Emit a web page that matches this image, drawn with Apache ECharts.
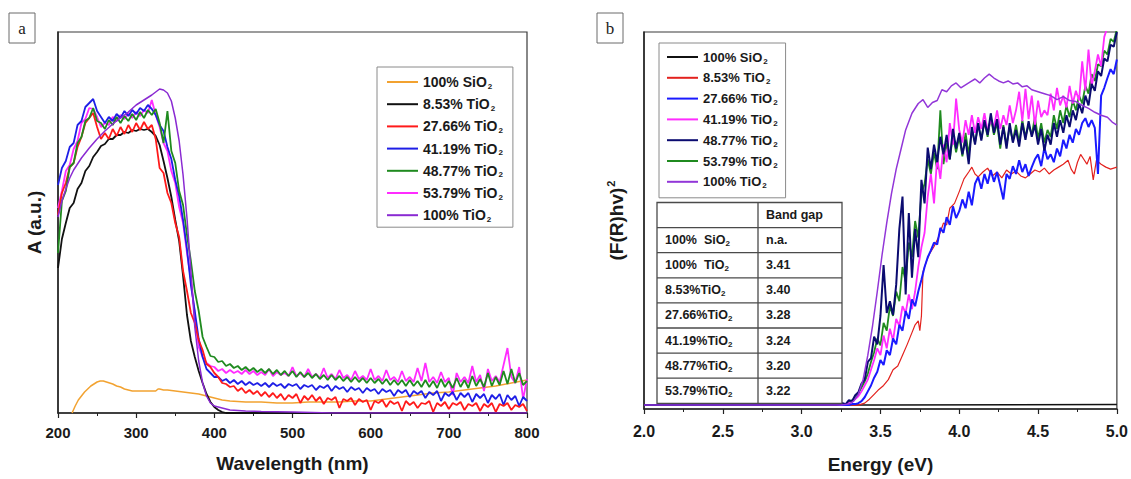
<!DOCTYPE html>
<html>
<head>
<meta charset="utf-8">
<title>UV-Vis absorbance and band gap of SiO2-TiO2 samples</title>
<script src="https://cdn.jsdelivr.net/npm/echarts@6/dist/echarts.min.js"></script>
<style>
  html, body { margin: 0; padding: 0; background: #ffffff; }
  #wrap { position: relative; width: 1131px; height: 479px; overflow: hidden; }
  #chartA { position: absolute; left: 0; top: 0; width: 565px; height: 479px; }
  #chartB { position: absolute; left: 565px; top: 0; width: 566px; height: 479px; }
</style>
</head>
<body>
<div id="wrap">
  <div id="chartA"></div>
  <div id="chartB"></div>
</div>
<script>
// ---------- sample names ----------
const namesA = ['100% SiO2', '8.53% TiO2', '27.66% TiO2', '41.19% TiO2', '48.77% TiO2', '53.79% TiO2', '100% TiO2'];
const namesB = ['100% SiO2', '8.53% TiO2', '27.66% TiO2', '41.19% TiO2', '48.77% TiO2', '53.79% TiO2', '100% TiO2'];

// ---------- panel a: absorbance vs wavelength ----------
const wlTicks = [200, 300, 400, 500, 600, 700, 800];

// spectra recorded every 5 nm from 200 to 800 nm
const wlStart = 200, wlStep = 5, wlCount = 121;

const abs2766 = [
  1.98, 2.20, 2.30, 2.46, 2.50, 2.66, 2.76, 2.90, 2.95, 3.00,
  2.86, 2.74, 2.80, 2.74, 2.84, 2.77, 2.86, 2.79, 2.88, 2.81,
  2.90, 2.83, 2.91, 2.84, 2.88, 2.74, 2.45, 2.40, 2.20, 2.10,
  1.90, 1.76, 1.42, 1.22, 1.00, 0.90, 0.73, 0.63, 0.49, 0.46,
  0.40, 0.36, 0.30, 0.29, 0.26, 0.27, 0.22, 0.25, 0.20, 0.23,
  0.19, 0.22, 0.17, 0.21, 0.16, 0.20, 0.15, 0.19, 0.13, 0.18,
  0.15, 0.19, 0.10, 0.17, 0.13, 0.18, 0.12, 0.16, 0.09, 0.15,
  0.13, 0.16, 0.05, 0.14, 0.12, 0.15, 0.08, 0.14, 0.11, 0.13,
  0.03, 0.12, 0.10, 0.13, 0.06, 0.12, 0.09, 0.11, 0.02, 0.12,
  0.08, 0.11, 0.05, 0.10, 0.09, 0.12, 0.01, 0.10, 0.07, 0.11,
  0.04, 0.10, 0.08, 0.11, 0.03, 0.09, 0.07, 0.10, 0.02, 0.09,
  0.06, 0.10, 0.01, 0.09, 0.07, 0.10, 0.03, 0.08, 0.06, 0.09,
  0.02
];
const abs4119 = [
  2.28, 2.45, 2.52, 2.66, 2.70, 2.88, 2.92, 3.06, 3.10, 3.14,
  3.02, 2.96, 2.90, 2.96, 2.92, 2.99, 2.95, 3.02, 2.97, 3.03,
  2.99, 3.05, 3.02, 3.08, 3.04, 2.98, 2.88, 2.82, 2.66, 2.54,
  2.33, 2.17, 1.93, 1.64, 1.28, 1.02, 0.74, 0.56, 0.44, 0.40,
  0.36, 0.36, 0.32, 0.34, 0.30, 0.33, 0.29, 0.32, 0.28, 0.31,
  0.28, 0.30, 0.27, 0.30, 0.26, 0.30, 0.27, 0.29, 0.25, 0.29,
  0.27, 0.29, 0.24, 0.28, 0.26, 0.28, 0.23, 0.27, 0.25, 0.28,
  0.22, 0.27, 0.24, 0.26, 0.21, 0.26, 0.23, 0.25, 0.20, 0.25,
  0.22, 0.24, 0.19, 0.24, 0.21, 0.23, 0.17, 0.23, 0.20, 0.23,
  0.16, 0.22, 0.19, 0.22, 0.15, 0.21, 0.18, 0.22, 0.12, 0.20,
  0.17, 0.21, 0.13, 0.20, 0.16, 0.20, 0.11, 0.19, 0.15, 0.19,
  0.10, 0.18, 0.14, 0.19, 0.08, 0.18, 0.13, 0.17, 0.07, 0.16,
  0.12
];
const abs4877 = [
  1.60, 2.12, 2.22, 2.46, 2.50, 2.70, 2.76, 2.92, 2.95, 3.05,
  2.92, 2.90, 2.84, 2.93, 2.88, 2.96, 2.90, 2.97, 2.92, 2.99,
  2.93, 3.01, 2.95, 3.03, 2.98, 3.04, 2.90, 2.70, 3.02, 2.62,
  2.50, 2.22, 2.08, 1.78, 1.52, 1.22, 1.02, 0.76, 0.66, 0.57,
  0.56, 0.51, 0.52, 0.47, 0.49, 0.45, 0.47, 0.43, 0.46, 0.42,
  0.45, 0.41, 0.44, 0.40, 0.44, 0.39, 0.43, 0.38, 0.42, 0.37,
  0.42, 0.36, 0.41, 0.36, 0.40, 0.35, 0.39, 0.34, 0.38, 0.33,
  0.38, 0.33, 0.37, 0.32, 0.36, 0.31, 0.36, 0.31, 0.35, 0.30,
  0.35, 0.30, 0.34, 0.29, 0.34, 0.28, 0.33, 0.28, 0.33, 0.27,
  0.33, 0.27, 0.32, 0.26, 0.33, 0.26, 0.32, 0.25, 0.34, 0.26,
  0.32, 0.25, 0.35, 0.26, 0.33, 0.25, 0.37, 0.27, 0.34, 0.26,
  0.40, 0.27, 0.36, 0.28, 0.42, 0.29, 0.44, 0.30, 0.40, 0.28,
  0.32
];
const abs5379 = [
  2.05, 2.22, 2.42, 2.48, 2.64, 2.72, 2.90, 2.94, 3.05, 3.04,
  2.96, 2.86, 2.90, 2.88, 2.96, 2.92, 2.98, 2.94, 3.00, 2.95,
  3.01, 2.97, 3.03, 3.00, 3.13, 2.98, 2.86, 2.70, 2.62, 2.42,
  2.30, 2.06, 1.90, 1.60, 1.34, 0.98, 0.66, 0.56, 0.50, 0.47,
  0.46, 0.42, 0.44, 0.40, 0.43, 0.40, 0.42, 0.39, 0.43, 0.39,
  0.42, 0.38, 0.41, 0.38, 0.44, 0.37, 0.41, 0.38, 0.40, 0.37,
  0.46, 0.37, 0.40, 0.36, 0.44, 0.36, 0.39, 0.35, 0.45, 0.35,
  0.39, 0.34, 0.43, 0.35, 0.38, 0.33, 0.42, 0.34, 0.37, 0.33,
  0.44, 0.33, 0.37, 0.32, 0.43, 0.33, 0.36, 0.31, 0.42, 0.32,
  0.36, 0.31, 0.45, 0.32, 0.50, 0.31, 0.36, 0.30, 0.41, 0.31,
  0.35, 0.18, 0.40, 0.31, 0.36, 0.30, 0.47, 0.31, 0.38, 0.22,
  0.44, 0.32, 0.37, 0.31, 0.48, 0.65, 0.36, 0.30, 0.46, 0.14,
  0.34
];

// 8.53 % TiO2: falls to the baseline after ~415 nm
const wl853 = [200, 205, 210, 215, 220, 225, 230, 235, 240, 245,
               250, 255, 260, 265, 270, 275, 280, 285, 290, 295,
               300, 305, 310, 315, 320, 325, 330, 335, 340, 345,
               350, 355, 360, 365, 370, 375, 380, 385, 390, 395,
               400, 405, 410, 415, 800];
const abs853 = [1.45, 1.74, 1.90, 2.05, 2.10, 2.24, 2.30, 2.42, 2.47, 2.56,
                2.61, 2.67, 2.69, 2.74, 2.74, 2.78, 2.78, 2.81, 2.80, 2.83,
                2.82, 2.84, 2.83, 2.84, 2.81, 2.77, 2.68, 2.52, 2.35, 2.16,
                1.93, 1.72, 1.37, 0.98, 0.72, 0.56, 0.42, 0.30, 0.19, 0.11,
                0.06, 0.03, 0.01, 0.00, 0.00];

// 100 % TiO2 (smooth curve)
const wl100 = [200, 205, 210, 215, 220, 230, 240, 250, 260, 270,
               280, 290, 300, 310, 320, 325, 330, 335, 340, 345,
               350, 355, 360, 365, 370, 375, 380, 385, 390, 395,
               400, 410, 420, 440, 460, 500, 550, 800];
const abs100 = [1.96, 2.12, 2.24, 2.35, 2.43, 2.55, 2.65, 2.74, 2.82, 2.89,
                2.95, 3.01, 3.08, 3.13, 3.18, 3.21, 3.24, 3.23, 3.20, 3.12,
                2.95, 2.72, 2.38, 1.95, 1.42, 0.86, 0.52, 0.30, 0.17, 0.10,
                0.07, 0.05, 0.03, 0.02, 0.015, 0.01, 0.00, 0.00];

// 100 % SiO2 (smooth curve)
const wlSiO2 = [218, 222, 226, 230, 234, 238, 242, 246, 250, 254,
                258, 262, 266, 270, 275, 280, 285, 290, 295, 300,
                305, 310, 315, 320, 325, 328, 330, 335, 340, 350,
                360, 370, 380, 390, 400, 410, 420, 440, 460, 480,
                500, 520, 540, 560, 580, 600, 620, 640, 660, 680,
                700, 720, 740, 760, 780, 800];
const absSiO2 = [0.00, 0.07, 0.13, 0.17, 0.21, 0.24, 0.27, 0.29, 0.31, 0.32,
                 0.32, 0.31, 0.30, 0.29, 0.27, 0.26, 0.24, 0.23, 0.22, 0.22,
                 0.22, 0.22, 0.22, 0.22, 0.22, 0.24, 0.24, 0.23, 0.23, 0.22,
                 0.21, 0.20, 0.19, 0.17, 0.15, 0.13, 0.12, 0.11, 0.11, 0.10,
                 0.10, 0.11, 0.11, 0.11, 0.12, 0.12, 0.14, 0.16, 0.18, 0.20,
                 0.21, 0.23, 0.25, 0.27, 0.30, 0.33];

// ---------- panel b: (F(R)hv)^2 vs photon energy ----------
const eTicks = [2.0, 2.5, 3.0, 3.5, 4.0, 4.5, 5.0];
const baselineB = 0.04;
// noisy spectra sampled every 0.02 eV from 3.20 to 5.00 eV
const eStart = 3.2, eStep = 0.02, eCount = 91;

const kmB2766 = [
  0.04, 0.04, 0.04, 0.04, 0.04, 0.04, 0.05, 0.05, 0.06, 0.08,
  0.12, 0.18, 0.24, 0.32, 0.38, 0.50, 0.45, 0.60, 0.55, 0.72,
  0.66, 0.86, 0.80, 1.00, 0.92, 1.12, 1.05, 1.20, 1.32, 1.45,
  1.55, 1.62, 1.70, 1.68, 1.85, 1.80, 1.96, 1.88, 2.07, 1.95,
  2.02, 2.14, 2.05, 2.22, 2.08, 2.30, 2.37, 2.25, 2.40, 2.30,
  2.44, 2.32, 2.42, 2.28, 2.14, 2.40, 2.35, 2.48, 2.40, 2.54,
  2.42, 2.50, 2.38, 2.47, 2.55, 2.60, 2.48, 2.67, 2.55, 2.60,
  2.52, 2.66, 2.58, 2.75, 2.66, 2.80, 2.72, 2.86, 2.80, 2.92,
  2.97, 2.88, 2.95, 2.87, 2.40, 3.20, 3.28, 3.38, 3.47, 3.42,
  3.57
];
const kmB4119 = [
  0.04, 0.04, 0.04, 0.04, 0.05, 0.06, 0.07, 0.10, 0.13, 0.18,
  0.24, 0.30, 0.40, 0.50, 0.62, 0.55, 0.75, 0.62, 0.82, 0.70,
  0.92, 0.85, 1.05, 0.98, 1.17, 1.02, 1.20, 1.45, 1.65, 1.80,
  2.17, 2.40, 2.10, 2.57, 2.35, 2.70, 2.52, 2.92, 2.70, 3.17,
  2.85, 2.72, 2.95, 2.80, 3.00, 2.82, 2.98, 2.86, 3.02, 2.84,
  2.95, 2.88, 3.05, 2.86, 3.00, 2.90, 3.10, 2.92, 3.05, 3.24,
  2.94, 3.27, 2.96, 3.20, 2.90, 3.15, 2.98, 3.05, 3.00, 3.22,
  3.05, 3.28, 3.10, 3.20, 3.08, 3.30, 3.12, 3.25, 3.15, 3.55,
  3.25, 3.67, 3.30, 3.45, 3.62, 3.50, 3.80, 3.90, 3.95, 3.90,
  3.95
];
const kmB4877 = [
  0.04, 0.04, 0.05, 0.06, 0.05, 0.09, 0.08, 0.14, 0.17, 0.26,
  0.30, 0.48, 0.52, 0.74, 0.66, 0.95, 1.47, 0.98, 1.10, 0.96,
  1.27, 1.84, 2.17, 1.17, 2.00, 1.34, 1.84, 1.55, 2.34, 2.10,
  2.67, 2.45, 2.70, 2.52, 2.78, 2.60, 2.80, 2.55, 2.86, 2.66,
  2.82, 2.60, 2.75, 2.50, 2.88, 2.70, 2.92, 2.74, 2.95, 2.80,
  3.02, 2.82, 2.96, 2.70, 2.88, 2.66, 2.92, 2.72, 2.85, 2.68,
  2.92, 2.75, 2.94, 2.78, 2.90, 2.70, 2.86, 2.64, 2.80, 2.70,
  2.92, 2.78, 2.95, 2.82, 3.00, 2.88, 3.05, 2.95, 3.12, 3.02,
  3.20, 3.10, 3.32, 3.25, 3.45, 3.40, 3.58, 3.55, 3.72, 3.70,
  3.85
];
const kmB5379 = [
  0.04, 0.04, 0.04, 0.05, 0.05, 0.07, 0.09, 0.11, 0.16, 0.22,
  0.28, 0.36, 0.48, 0.58, 0.72, 0.65, 0.88, 0.80, 1.05, 0.95,
  1.20, 1.10, 1.45, 1.30, 1.70, 1.55, 1.92, 1.75, 2.20, 2.30,
  2.55, 2.40, 2.62, 2.45, 3.05, 2.50, 2.72, 2.55, 2.80, 2.62,
  2.78, 2.58, 2.82, 2.60, 2.85, 2.72, 2.90, 2.76, 2.93, 2.78,
  2.98, 2.80, 2.92, 2.66, 2.90, 2.70, 2.88, 2.74, 2.90, 2.72,
  2.95, 2.78, 2.90, 2.80, 2.98, 2.76, 2.92, 2.72, 2.85, 2.78,
  3.00, 2.86, 3.05, 2.92, 3.10, 2.98, 3.15, 3.05, 3.20, 3.12,
  3.30, 3.22, 3.42, 3.35, 3.52, 3.50, 3.66, 3.62, 3.78, 3.75,
  3.88
];

// 8.53 % TiO2 (coarser sampling)
const eB853 = [2.0, 3.36, 3.40, 3.43, 3.46, 3.49, 3.52, 3.55, 3.58, 3.61,
               3.64, 3.67, 3.70, 3.72, 3.74, 3.75, 3.76, 3.77, 3.79, 3.81,
               3.84, 3.87, 3.90, 3.92, 3.94, 3.97, 4.00, 4.03, 4.06, 4.08,
               4.10, 4.12, 4.15, 4.18, 4.21, 4.24, 4.27, 4.30, 4.33, 4.36,
               4.39, 4.42, 4.45, 4.48, 4.51, 4.54, 4.57, 4.60, 4.63, 4.66,
               4.69, 4.71, 4.73, 4.75, 4.77, 4.79, 4.81, 4.83, 4.85, 4.87,
               4.90, 4.93, 4.96, 5.00];
const kmB853 = [0.04, 0.04, 0.06, 0.10, 0.15, 0.20, 0.24, 0.30, 0.40, 0.44,
                0.55, 0.66, 0.78, 0.86, 0.90, 0.80, 0.95, 1.40, 1.50, 1.58,
                1.66, 1.76, 1.90, 1.88, 2.05, 2.10, 2.22, 2.35, 2.42, 2.47,
                2.40, 2.37, 2.42, 2.46, 2.38, 2.42, 2.36, 2.44, 2.40, 2.43,
                2.38, 2.36, 2.40, 2.44, 2.42, 2.46, 2.40, 2.44, 2.47, 2.50,
                2.54, 2.45, 2.40, 2.52, 2.60, 2.55, 2.50, 2.58, 2.34, 2.54,
                2.50, 2.47, 2.45, 2.47];

// 100 % TiO2 (smooth curve)
const eB100 = [2.0, 3.25, 3.30, 3.33, 3.36, 3.39, 3.42, 3.45, 3.48, 3.51,
               3.54, 3.57, 3.60, 3.63, 3.66, 3.70, 3.74, 3.77, 3.80, 3.83,
               3.86, 3.89, 3.92, 3.95, 3.98, 4.01, 4.04, 4.07, 4.10, 4.13,
               4.16, 4.19, 4.22, 4.25, 4.28, 4.31, 4.34, 4.37, 4.40, 4.43,
               4.46, 4.50, 4.54, 4.58, 4.62, 4.66, 4.70, 4.74, 4.78, 4.82,
               4.86, 4.90, 4.94, 4.97, 5.00];
const kmB100 = [0.04, 0.04, 0.05, 0.08, 0.15, 0.30, 0.55, 0.85, 1.20, 1.57,
                1.90, 2.20, 2.45, 2.65, 2.85, 3.02, 3.12, 3.16, 3.08, 3.13,
                3.15, 3.26, 3.24, 3.30, 3.33, 3.28, 3.31, 3.34, 3.37, 3.33,
                3.38, 3.42, 3.38, 3.35, 3.33, 3.35, 3.32, 3.33, 3.29, 3.30,
                3.26, 3.24, 3.22, 3.20, 3.16, 3.19, 3.15, 3.14, 3.10, 3.07,
                3.03, 3.00, 2.98, 2.93, 2.90];

// 100 % SiO2: flat
const eBSiO2 = [2.0, 3.5, 5.0];
const kmBSiO2 = [0.04, 0.042, 0.045];

// band-gap table
const tableHeader = 'Band gap';
const tableSamples = ['100%  SiO2', '100%  TiO2', '8.53%TiO2', '27.66%TiO2', '41.19%TiO2', '48.77%TiO2', '53.79%TiO2'];
const tableGaps = ['n.a.', '3.41', '3.40', '3.28', '3.24', '3.20', '3.22'];

// ---------- helpers ----------
const FONT = '"Liberation Sans", Arial, Helvetica, sans-serif';
const INK = '#1a1a1a';

function sampleGrid(start, step, count) {
  const out = [];
  for (let i = 0; i < count; i++) out.push(+(start + i * step).toFixed(2));
  return out;
}
function pairs(xs, ys) {
  const n = Math.min(xs.length, ys.length);
  const out = [];
  for (let i = 0; i < n; i++) out.push([xs[i], ys[i]]);
  return out;
}
// chemical formula with subscript 2 as rich text
function formula(name, main, sub) {
  const m = name.match(/^(.*O)2$/);
  return m ? '{' + main + '|' + m[1] + '}{' + sub + '|2}' : '{' + main + '|' + name + '}';
}
function line(name, data, color, width, extra) {
  return Object.assign({
    name: name,
    type: 'line',
    data: data,
    showSymbol: false,
    symbol: 'none',
    smooth: false,
    clip: true,
    itemStyle: { color: color },
    lineStyle: { color: color, width: width },
    emphasis: { disabled: true }
  }, extra || {});
}

const wlGrid = sampleGrid(wlStart, wlStep, wlCount);
const eGrid = sampleGrid(eStart, eStep, eCount);

function axisX(min, max, interval, labelSize, margin, name, nameGap, digits) {
  return {
    type: 'value', min: min, max: max, interval: interval,
    axisLine: { show: true, onZero: false, lineStyle: { color: '#222', width: 1.5 } },
    axisTick: { show: true, inside: false, length: 5, lineStyle: { color: '#222', width: 1.2 } },
    minorTick: { show: true, splitNumber: 2, length: 3, lineStyle: { color: '#222', width: 1 } },
    splitLine: { show: false },
    axisLabel: {
      margin: margin, fontSize: labelSize, fontWeight: 'bold', color: INK, fontFamily: FONT,
      formatter: v => digits ? v.toFixed(digits) : String(v)
    },
    name: name, nameLocation: 'middle', nameGap: nameGap,
    nameTextStyle: { fontSize: 19, fontWeight: 'bold', color: INK, fontFamily: FONT }
  };
}
function axisY(max, name, nameGap, rich) {
  return {
    type: 'value', min: 0, max: max,
    axisLine: { show: true, onZero: false, lineStyle: { color: '#222', width: 1.5 } },
    axisTick: { show: false }, axisLabel: { show: false }, splitLine: { show: false },
    name: name, nameLocation: 'middle', nameGap: nameGap, nameRotate: 90,
    nameTextStyle: Object.assign({ fontSize: 19, fontWeight: 'bold', color: INK, fontFamily: FONT }, rich ? { rich: rich } : {})
  };
}
// legend rows are 16 px high; the subscript token keeps the same height
function legendRich(size) {
  return {
    m: { fontSize: size, fontWeight: 'bold', fontFamily: FONT, color: INK, lineHeight: 16 },
    s: { fontSize: Math.round(size * 0.6), fontWeight: 'bold', fontFamily: FONT, color: INK, lineHeight: 8, padding: [8, 0, 0, 1] }
  };
}
function panelTag(letter, x, y) {
  return [
    { type: 'rect', shape: { x: x, y: y, width: 26, height: 30 }, style: { fill: '#fff', stroke: '#6a6a6a', lineWidth: 1 }, z: 10 },
    { type: 'text', x: x + 13, y: y + 15, z: 11,
      style: { text: letter, fill: '#222', font: '17px "Liberation Serif", "Times New Roman", serif', align: 'center', verticalAlign: 'middle' } }
  ];
}

// ---------- panel a ----------
const chartA = echarts.init(document.getElementById('chartA'), null, { renderer: 'svg' });
chartA.setOption({
  animation: false,
  backgroundColor: '#ffffff',
  grid: { left: 58, top: 32, width: 469, height: 381, show: true, borderColor: '#3a3a3a', borderWidth: 1.2 },
  xAxis: axisX(wlTicks[0], wlTicks[wlTicks.length - 1], wlTicks[1] - wlTicks[0], 15, 12, 'Wavelength (nm)', 41, 0),
  yAxis: axisY(3.81, 'A (a.u.)', 14),
  legend: {
    orient: 'vertical', left: 377, top: 67,
    padding: [7, 10, 4, 10], itemGap: 6.2,
    itemWidth: 31, itemHeight: 2, icon: 'rect',
    backgroundColor: '#fff', borderColor: '#8a8a8a', borderWidth: 1,
    selectedMode: false, data: namesA,
    formatter: n => formula(n, 'm', 's'),
    textStyle: { rich: legendRich(14) }
  },
  graphic: { elements: panelTag('a', 9, 13) },
  series: [
    line(namesA[0], pairs(wlSiO2, absSiO2), '#f2a230', 1.5),
    line(namesA[1], pairs(wl853, abs853), '#111111', 1.8),
    line(namesA[5], pairs(wlGrid, abs5379), '#ff2cff', 1.8),
    line(namesA[3], pairs(wlGrid, abs4119), '#1e1ee6', 1.8),
    line(namesA[2], pairs(wlGrid, abs2766), '#ff1a1a', 1.8),
    line(namesA[4], pairs(wlGrid, abs4877), '#1f8a1f', 1.8),
    line(namesA[6], pairs(wl100, abs100), '#8a2ad2', 1.5)
  ]
});

// ---------- panel b ----------
const tableLeft = 92, tableRight = 277, tableMid = 193, tableTop = 202.5, rowH = 25.1;
const tableElems = [];
const rowCount = tableSamples.length + 1;
tableElems.push({ type: 'rect', shape: { x: tableLeft, y: tableTop, width: tableRight - tableLeft, height: rowH * rowCount },
  style: { fill: '#fff', stroke: '#4a4a4a', lineWidth: 1.3 }, z: 10 });
tableElems.push({ type: 'line', shape: { x1: tableMid, y1: tableTop, x2: tableMid, y2: tableTop + rowH * rowCount },
  style: { stroke: '#4a4a4a', lineWidth: 1.3 }, z: 11 });
for (let r = 1; r < rowCount; r++) {
  tableElems.push({ type: 'line', shape: { x1: tableLeft, y1: tableTop + r * rowH, x2: tableRight, y2: tableTop + r * rowH },
    style: { stroke: '#4a4a4a', lineWidth: 1.3 }, z: 11 });
}
const cellRich = {
  m: { fontSize: 12.5, fontWeight: 'bold', fontFamily: FONT, fill: INK, lineHeight: 15 },
  s: { fontSize: 8, fontWeight: 'bold', fontFamily: FONT, fill: INK, lineHeight: 8, padding: [7, 0, 0, 0] }
};
function cell(text, x, row) {
  return { type: 'text', x: x, y: tableTop + row * rowH + rowH / 2, z: 12,
    style: { text: formula(text, 'm', 's'), rich: cellRich, align: 'left', verticalAlign: 'middle' } };
}
tableElems.push(cell(tableHeader, tableMid + 8, 0));
tableSamples.forEach((s, i) => {
  tableElems.push(cell(s, tableLeft + 8, i + 1));
  tableElems.push(cell(tableGaps[i], tableMid + 8, i + 1));
});

const chartB = echarts.init(document.getElementById('chartB'), null, { renderer: 'svg' });
chartB.setOption({
  animation: false,
  backgroundColor: '#ffffff',
  grid: { left: 79, top: 32, width: 474, height: 385, show: true, borderColor: '#3a3a3a', borderWidth: 1.2 },
  xAxis: axisX(eTicks[0], eTicks[eTicks.length - 1], 0.5, 16, 14, 'Energy (eV)', 46, 1),
  yAxis: axisY(3.85, '{m|(F(R)hv)}{p|2}', 17, {
    m: { fontSize: 19, fontWeight: 'bold', fontFamily: FONT, color: INK, lineHeight: 22 },
    p: { fontSize: 11, fontWeight: 'bold', fontFamily: FONT, color: INK, lineHeight: 22, padding: [0, 0, 10, 1] }
  }),
  legend: {
    orient: 'vertical', left: 94, top: 43,
    padding: [6, 8, 8, 8], itemGap: 4.8,
    itemWidth: 31, itemHeight: 2, icon: 'rect',
    backgroundColor: '#fff', borderColor: '#8a8a8a', borderWidth: 1,
    selectedMode: false, data: namesB,
    formatter: n => formula(n, 'm', 's'),
    textStyle: { rich: legendRich(13) }
  },
  graphic: { elements: panelTag('b', 32, 13).concat(tableElems) },
  series: [
    line(namesB[0], pairs(eBSiO2, kmBSiO2), '#111111', 1.5),
    line(namesB[1], pairs(eB853, kmB853), '#e3221e', 1.2),
    line(namesB[5], [[2.0, baselineB]].concat(pairs(eGrid, kmB5379)), '#1f8a1f', 1.8),
    line(namesB[3], [[2.0, baselineB]].concat(pairs(eGrid, kmB4119)), '#ff2cff', 1.8),
    line(namesB[2], [[2.0, baselineB]].concat(pairs(eGrid, kmB2766)), '#1a1aff', 2),
    line(namesB[4], [[2.0, baselineB]].concat(pairs(eGrid, kmB4877)), '#0b0b70', 2),
    line(namesB[6], pairs(eB100, kmB100), '#9236d8', 1.5)
  ]
});
</script>
</body>
</html>
